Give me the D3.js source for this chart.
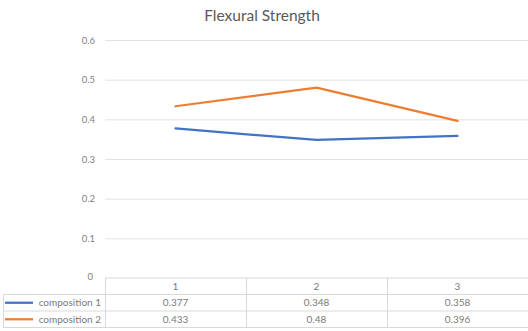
<!DOCTYPE html>
<html>
<head>
<meta charset="utf-8">
<script src="https://cdn.jsdelivr.net/npm/d3@7"></script>
<style>
  html, body { margin: 0; padding: 0; background: #fff; }
  svg { display: block; }
</style>
</head>
<body>
<svg id="chart" width="528" height="331"></svg>
<script>
// Flexural strength per sample for two compositions
const categories = ["1", "2", "3"];
const seriesNames = ["composition 1", "composition 2"];
const composition1 = [0.377, 0.348, 0.358];
const composition2 = [0.433, 0.48, 0.396];
const yTicks = [0, 0.1, 0.2, 0.3, 0.4, 0.5, 0.6];
const tickLabels = ["0", "0.1", "0.2", "0.3", "0.4", "0.5", "0.6"];
const seriesColors = ["#4472C4", "#ED7D31"];

const series = [composition1, composition2];

const svg = d3.select("#chart");
const font = "Lato, 'Open Sans', sans-serif";

const plot = { left: 105, right: 528, top: 40, bottom: 278 };

const x = d3.scaleBand().domain(categories).range([plot.left, plot.right]);
const y = d3.scaleLinear().domain([0, 0.6]).range([plot.bottom, plot.top]);

// Title
svg.append("text")
  .attr("x", 262).attr("y", 21)
  .attr("text-anchor", "middle")
  .attr("font-family", font)
  .attr("font-size", 15.5)
  .attr("fill", "#595959")
  .text("Flexural Strength");

// Horizontal gridlines (the zero line is the top edge of the data table)
const yAxis = d3.axisLeft(y)
  .tickValues(yTicks)
  .tickFormat((d, i) => tickLabels[i])
  .tickSize(-(plot.right - plot.left))
  .tickPadding(10);

const gy = svg.append("g")
  .attr("transform", `translate(${plot.left},0)`)
  .call(yAxis);
gy.select(".domain").remove();
gy.selectAll(".tick line")
  .attr("stroke", "#e3e3e3")
  .attr("stroke-width", 1)
  .attr("display", d => d === 0 ? "none" : null);
gy.selectAll(".tick text")
  .attr("font-family", font)
  .attr("font-size", 9.5)
  .attr("fill", "#7f7f7f")
  .attr("x", d => d === 0 ? -12 : -10)
  .attr("dy", d => d === 0 ? "0.18em" : "0.32em");

// Lines
const line = d3.line()
  .x((d, i) => x(categories[i]) + x.bandwidth() / 2)
  .y(d => y(d));

svg.append("g").selectAll("path")
  .data(series)
  .join("path")
  .attr("d", d => line(d))
  .attr("fill", "none")
  .attr("stroke", (d, i) => seriesColors[i])
  .attr("stroke-width", 2.25)
  .attr("stroke-linejoin", "round")
  .attr("stroke-linecap", "round");

// Data table below the plot
const rowTops = [278, 294.5, 311, 327.5];
const tableLeft = 3;
const gridColor = "#d9d9d9";
const table = svg.append("g").attr("stroke", gridColor).attr("stroke-width", 1).attr("fill", "none");

// top line of header row spans only the value columns
table.append("line")
  .attr("x1", plot.left).attr("x2", plot.right)
  .attr("y1", rowTops[0]).attr("y2", rowTops[0]);
rowTops.slice(1).forEach(ty => {
  table.append("line")
    .attr("x1", tableLeft).attr("x2", plot.right)
    .attr("y1", ty).attr("y2", ty);
});
// vertical column separators
table.append("line")
  .attr("x1", tableLeft + 0.5).attr("x2", tableLeft + 0.5)
  .attr("y1", rowTops[1]).attr("y2", rowTops[3]);
categories.forEach(c => {
  const cx = Math.round(x(c)) + 0.5;
  table.append("line")
    .attr("x1", cx).attr("x2", cx)
    .attr("y1", rowTops[0]).attr("y2", rowTops[3]);
});

const textG = svg.append("g")
  .attr("font-family", font)
  .attr("font-size", 10)
  .attr("fill", "#7a7a7a");

// header row: category labels
textG.selectAll("text.cat")
  .data(categories)
  .join("text")
  .attr("class", "cat")
  .attr("x", d => x(d) + x.bandwidth() / 2)
  .attr("y", (rowTops[0] + rowTops[1]) / 2)
  .attr("dy", "0.35em")
  .attr("text-anchor", "middle")
  .text(d => d);

// value rows with legend keys
series.forEach((vals, si) => {
  const cy = (rowTops[si + 1] + rowTops[si + 2]) / 2;
  svg.append("line")
    .attr("x1", 5).attr("x2", 33)
    .attr("y1", cy).attr("y2", cy)
    .attr("stroke", seriesColors[si])
    .attr("stroke-width", 2.25);
  textG.append("text")
    .attr("x", 101).attr("y", cy)
    .attr("dy", "0.35em")
    .attr("text-anchor", "end")
    .text(seriesNames[si]);
  textG.selectAll(null)
    .data(vals)
    .join("text")
    .attr("x", (d, i) => x(categories[i]) + x.bandwidth() / 2)
    .attr("y", cy)
    .attr("dy", "0.35em")
    .attr("text-anchor", "middle")
    .text(d => String(d));
});
</script>
</body>
</html>
